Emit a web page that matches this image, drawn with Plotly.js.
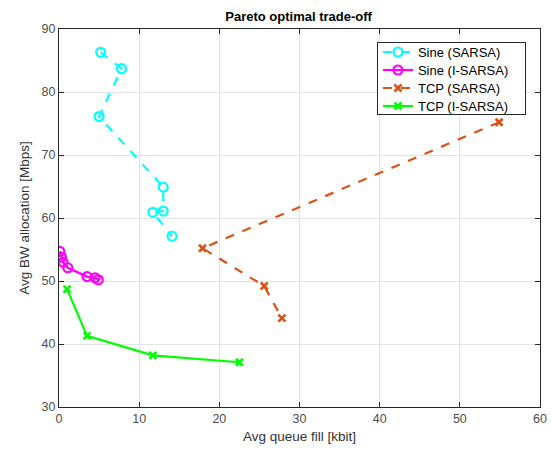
<!DOCTYPE html>
<html>
<head>
<meta charset="utf-8">
<script src="https://cdn.plot.ly/plotly-3.0.1.min.js"></script>
<style>html,body{margin:0;padding:0;background:#fff;}#chart{width:553px;height:458px;}</style>
</head>
<body>
<div id="chart"></div>
<script>
const sineSarsaX = [5.2, 7.8, 5.0, 13.0, 13.0, 11.7, 14.1];
const sineSarsaY = [86.3, 83.7, 76.1, 64.9, 61.1, 60.9, 57.1];
const sineISarsaX = [0.1, 0.3, 0.5, 1.1, 3.5, 4.5, 4.9];
const sineISarsaY = [54.7, 53.8, 53.0, 52.1, 50.7, 50.5, 50.2];
const tcpSarsaX = [54.9, 17.9, 25.6, 27.8];
const tcpSarsaY = [75.2, 55.2, 49.2, 44.1];
const tcpISarsaX = [1.0, 3.5, 11.7, 22.5];
const tcpISarsaY = [48.7, 41.3, 38.2, 37.1];
const xTicks = [0, 10, 20, 30, 40, 50, 60];
const yTicks = [30, 40, 50, 60, 70, 80, 90];

const font = "Liberation Sans, Arial, sans-serif";
const traces = [
  {x: sineSarsaX, y: sineSarsaY, name: 'Sine (SARSA)', mode: 'lines+markers',
   line: {color: '#00FFFF', width: 2.2, dash: 'dash'},
   marker: {symbol: 'circle-open', size: 9, color: '#00FFFF', line: {width: 2.2, color: '#00FFFF'}}},
  {x: sineISarsaX, y: sineISarsaY, name: 'Sine (I-SARSA)', mode: 'lines+markers',
   line: {color: '#FF00FF', width: 2.2},
   marker: {symbol: 'circle-open', size: 9, color: '#FF00FF', line: {width: 2.2, color: '#FF00FF'}}},
  {x: tcpSarsaX, y: tcpSarsaY, name: 'TCP (SARSA)', mode: 'lines+markers',
   line: {color: '#D95319', width: 2.2, dash: 'dash'},
   marker: {symbol: 'x-thin-open', size: 7, color: '#D95319', line: {width: 2.6, color: '#D95319'}}},
  {x: tcpISarsaX, y: tcpISarsaY, name: 'TCP (I-SARSA)', mode: 'lines+markers',
   line: {color: '#00FF00', width: 2.2},
   marker: {symbol: 'x-thin-open', size: 7, color: '#00FF00', line: {width: 2.6, color: '#00FF00'}}}
];

const axisCommon = {
  showline: true, linecolor: '#262626', linewidth: 1, mirror: 'ticks',
  ticks: 'inside', ticklen: 5, tickcolor: '#262626', tickwidth: 1,
  showgrid: true, gridcolor: '#e3e3e3', gridwidth: 1, zeroline: false,
  tickfont: {family: font, size: 12.5, color: '#4d4d4d'}
};

const layout = {
  width: 553, height: 458,
  margin: {l: 59, r: 13, t: 29, b: 51},
  paper_bgcolor: '#fff', plot_bgcolor: '#fff',
  title: {text: '<b>Pareto optimal trade-off</b>', font: {family: font, size: 13, color: '#000'},
          x: 0.54, xanchor: 'center', y: 0.965, yanchor: 'middle'},
  xaxis: Object.assign({}, axisCommon, {range: [0, 60], tickvals: xTicks,
    title: {text: 'Avg queue fill [kbit]', font: {family: font, size: 13.5, color: '#333'}, standoff: 6}}),
  yaxis: Object.assign({}, axisCommon, {range: [30, 90], tickvals: yTicks,
    title: {text: 'Avg BW allocation [Mbps]', font: {family: font, size: 13.5, color: '#333'}, standoff: 8}}),
  showlegend: true,
  legend: {x: 0.661, y: 0.9656, xanchor: 'left', yanchor: 'top', bgcolor: '#fff',
           bordercolor: '#262626', borderwidth: 1, font: {family: font, size: 13, color: '#000'},
           tracegroupgap: 0, itemwidth: 30}
};

// compact the legend rows (MATLAB-style spacing) after Plotly has drawn it
function compactLegend(gd) {
  try {
    const leg = gd.querySelector('g.legend');
    if (!leg) return;
    const items = leg.querySelectorAll('g.traces');
    const bg = leg.querySelector('rect.bg');
    const parse = el => {
      const m = /translate\(\s*([-\d.e]+)[ ,]+([-\d.e]+)/.exec(el.getAttribute('transform') || '');
      return m ? [+m[1], +m[2]] : [0, 0];
    };
    const rowGap = 18, topPad = 10, boxH = 72, boxW = 148;
    items.forEach((it, i) => {
      const p = parse(it);
      it.setAttribute('transform', 'translate(' + p[0] + ',' + (topPad + i * rowGap) + ')');
    });
    if (bg) { bg.setAttribute('height', boxH); bg.setAttribute('width', boxW); }
    leg.querySelectorAll('clipPath rect').forEach(r => { r.setAttribute('height', boxH); r.setAttribute('width', boxW); });
  } catch (e) {}
}

Plotly.newPlot('chart', traces, layout, {displayModeBar: false, staticPlot: true}).then(compactLegend);
</script>
</body>
</html>
